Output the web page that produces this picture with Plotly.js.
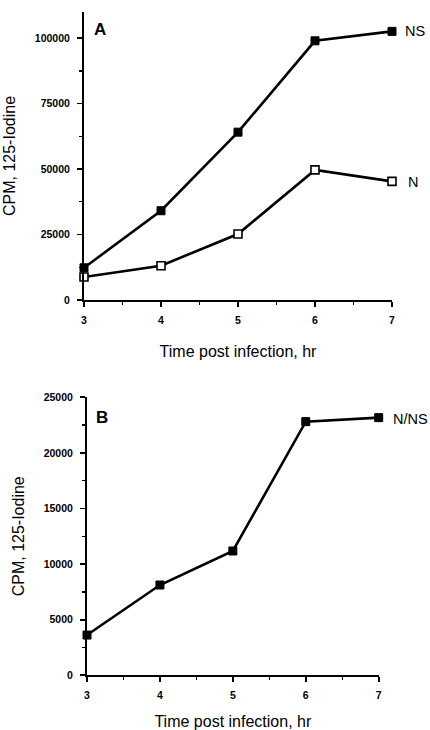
<!DOCTYPE html>
<html>
<head>
<meta charset="utf-8">
<script src="https://cdn.plot.ly/plotly-3.0.1.min.js"></script>
<style>
  html, body { margin: 0; padding: 0; background: #fff; }
  #chart { width: 430px; height: 730px; }
</style>
</head>
<body>
<div id="chart"></div>
<script>
// Hours after infection
const hours = [3, 4, 5, 6, 7];

// Panel A: 125-Iodine counts per protein
const nsCounts = [12300, 34100, 64100, 99000, 102600];
const nCounts = [8800, 13100, 25200, 49700, 45300];

// Panel B: N/NS ratio series
const ratioCounts = [3620, 8120, 11180, 22810, 23170];

const panelLabels = ['A', 'B'];
const seriesLabels = ['NS', 'N', 'N/NS'];

const xTitle = 'Time post infection, hr';
const yTitle = 'CPM, 125-Iodine';

const FONT = 'Liberation Sans, Arial, Helvetica, sans-serif';
const tickFont = { family: FONT, size: 10.5, color: '#000', weight: 'bold' };
const titleFont = { family: FONT, size: 16, color: '#000' };

function xAxis(domain, anchor) {
  return {
    domain: domain, anchor: anchor,
    range: [3, 7], tickvals: hours, ticktext: hours.map(String),
    showgrid: false, zeroline: false,
    showline: true, linecolor: '#000', linewidth: 2,
    ticks: 'outside', ticklen: 5, tickwidth: 1.6, tickcolor: '#000',
    ticklabelstandoff: 4,
    minor: { dtick: 0.5, tick0: 3, ticks: 'outside', ticklen: 3, tickwidth: 1.3, tickcolor: '#000', showgrid: false },
    tickfont: tickFont,
    title: { text: xTitle, font: titleFont, standoff: 21 }
  };
}

function yAxis(domain, anchor, range, dtick, minorDtick) {
  return {
    domain: domain, anchor: anchor,
    range: range, dtick: dtick, tick0: 0,
    showgrid: false, zeroline: false,
    showline: true, linecolor: '#000', linewidth: 2,
    ticks: 'outside', ticklen: 5, tickwidth: 1.6, tickcolor: '#000',
    ticklabelstandoff: 5,
    minor: { dtick: minorDtick, tick0: 0, ticks: 'outside', ticklen: 3, tickwidth: 1.3, tickcolor: '#000', showgrid: false },
    tickfont: tickFont, tickformat: 'd',
    title: { text: yTitle, font: titleFont, standoff: 15 }
  };
}

const lineStyle = { color: '#000', width: 2.6 };

const traces = [
  {
    x: hours, y: nsCounts, xaxis: 'x', yaxis: 'y',
    mode: 'lines+markers', name: seriesLabels[0], line: lineStyle,
    marker: { symbol: 'square', size: 8, color: '#000', line: { color: '#000', width: 1 } },
    cliponaxis: false
  },
  {
    x: hours, y: nCounts, xaxis: 'x', yaxis: 'y',
    mode: 'lines+markers', name: seriesLabels[1], line: lineStyle,
    marker: { symbol: 'square', size: 8, color: '#fff', line: { color: '#000', width: 1.6 } },
    cliponaxis: false
  },
  {
    x: hours, y: ratioCounts, xaxis: 'x2', yaxis: 'y2',
    mode: 'lines+markers', name: seriesLabels[2], line: lineStyle,
    marker: { symbol: 'square', size: 8, color: '#000', line: { color: '#000', width: 1 } },
    cliponaxis: false
  }
];

const last = hours.length - 1;
const seriesFont = { family: FONT, size: 14.5, color: '#000' };
const panelFont = { family: FONT, size: 17, color: '#000', weight: 'bold' };

const annotations = [
  // end-of-line series names
  { xref: 'x', yref: 'y', x: hours[last], y: nsCounts[last], text: seriesLabels[0],
    showarrow: false, xanchor: 'left', xshift: 11, yshift: 0, font: seriesFont },
  { xref: 'x', yref: 'y', x: hours[last], y: nCounts[last], text: seriesLabels[1],
    showarrow: false, xanchor: 'left', xshift: 14, yshift: -1, font: seriesFont },
  { xref: 'x2', yref: 'y2', x: hours[last], y: ratioCounts[last], text: seriesLabels[2],
    showarrow: false, xanchor: 'left', xshift: 12, yshift: -1, font: seriesFont },
  // panel letters
  { xref: 'paper', yref: 'paper', x: 100 / 430, y: 1 - 30 / 730, text: panelLabels[0],
    showarrow: false, xanchor: 'center', yanchor: 'middle', font: panelFont },
  { xref: 'paper', yref: 'paper', x: 101.5 / 430, y: 1 - 417 / 730, text: panelLabels[1],
    showarrow: false, xanchor: 'center', yanchor: 'middle', font: panelFont }
];

const layout = {
  width: 430, height: 730,
  margin: { l: 0, r: 0, t: 0, b: 0 },
  paper_bgcolor: '#fff', plot_bgcolor: '#fff',
  showlegend: false,
  font: { family: FONT, color: '#000' },
  xaxis: xAxis([84 / 430, 392 / 430], 'y'),
  yaxis: yAxis([1 - 300 / 730, 1 - 12 / 730], 'x', [0, 110000], 25000, 12500),
  xaxis2: xAxis([87 / 430, 378.7 / 430], 'y2'),
  yaxis2: yAxis([1 - 675.3 / 730, 1 - 397.3 / 730], 'x2', [0, 25000], 5000, 2500),
  annotations: annotations
};

Plotly.newPlot('chart', traces, layout, { staticPlot: true, displayModeBar: false });
</script>
</body>
</html>
